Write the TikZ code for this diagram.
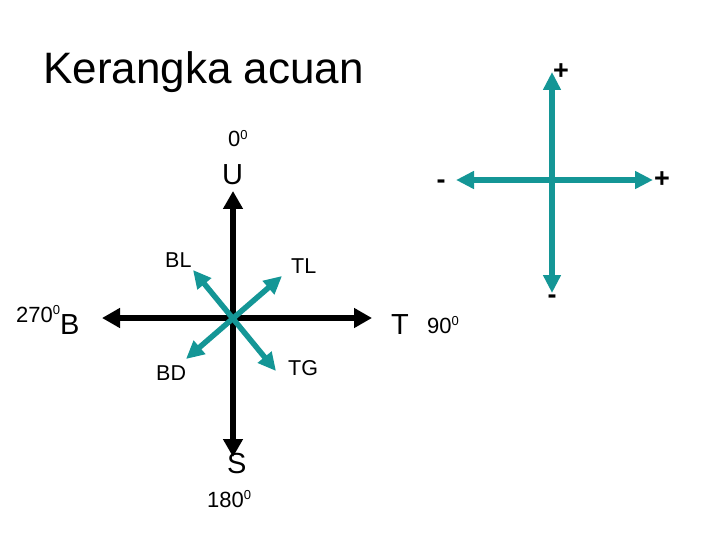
\documentclass[tikz,border=0pt]{standalone}
\usepackage{fontspec}
\setmainfont{Liberation Sans}
\usetikzlibrary{arrows.meta}
\definecolor{tealc}{RGB}{20,150,150}
\newcommand{\fs}[1]{\fontsize{#1}{#1}\selectfont}
\newcommand{\degs}{\raisebox{0.33em}{\fs{13}0}}
\tikzset{
  blk/.style={line width=6pt, draw=black, {Triangle[width=19pt,length=18pt]}-{Triangle[width=19pt,length=18pt]}},
  tl/.style={line width=5.5pt, draw=tealc, {Triangle[width=17pt,length=18pt]}-{Triangle[width=17pt,length=18pt]}},
  big/.style={font=\fs{29}, inner sep=0pt, anchor=base west},
  mid/.style={font=\fs{21.5}, inner sep=0pt, anchor=base west},
  sml/.style={font=\fs{22}, inner sep=0pt, anchor=base west},
  sgn/.style={font=\fs{27}\bfseries, inner sep=0pt},
}
\begin{document}
\begin{tikzpicture}[x=1pt,y=-1pt]
\useasboundingbox (0,0) rectangle (720,540);
\node[font=\fs{44}, anchor=base west, inner sep=0pt] (title) at (43,84) {Kerangka acuan};
% compass
\coordinate (c) at (233,318);
\coordinate (n) at (233,191);
\coordinate (s) at (233,457);
\coordinate (w) at (102,318);
\coordinate (e) at (372,318);
\draw[blk] (s) -- (n);
\draw[blk] (w) -- (e);
\coordinate (nw) at (193,270);
\coordinate (ne) at (282,276);
\coordinate (sw) at (186,359);
\coordinate (se) at (276,371);
\draw[tl] (nw) -- (se);
\draw[tl] (sw) -- (ne);
\node[sml] (d0) at (228,147) {0\degs};
\node[big] (U) at (222,185) {U};
\node[mid] (BL) at (165,267) {BL};
\node[mid] (TL) at (291,273) {TL};
\node[sml] (d270) at (16,322) {270\degs};
\node[big] (B) at (60,334) {B};
\node[big] (T) at (391,334) {T};
\node[sml] (d90) at (427,333) {90\degs};
\node[mid] (BD) at (156,380) {BD};
\node[mid] (TG) at (288,375) {TG};
\node[big] (S) at (227,473) {S};
\node[sml] (d180) at (207,507) {180\degs};
% right cross
\coordinate (rt) at (552,72);
\coordinate (rb) at (552,293);
\coordinate (rl) at (456,180);
\coordinate (rr) at (653,180);
\draw[tl] (rb) -- (rt);
\draw[tl] (rl) -- (rr);
\node[sgn] (p1) at (561,72) {+};
\node[sgn] (m1) at (441,184) {-};
\node[sgn] (p2) at (662,180) {+};
\node[sgn] (m2) at (552,299) {-};
\end{tikzpicture}
\end{document}
